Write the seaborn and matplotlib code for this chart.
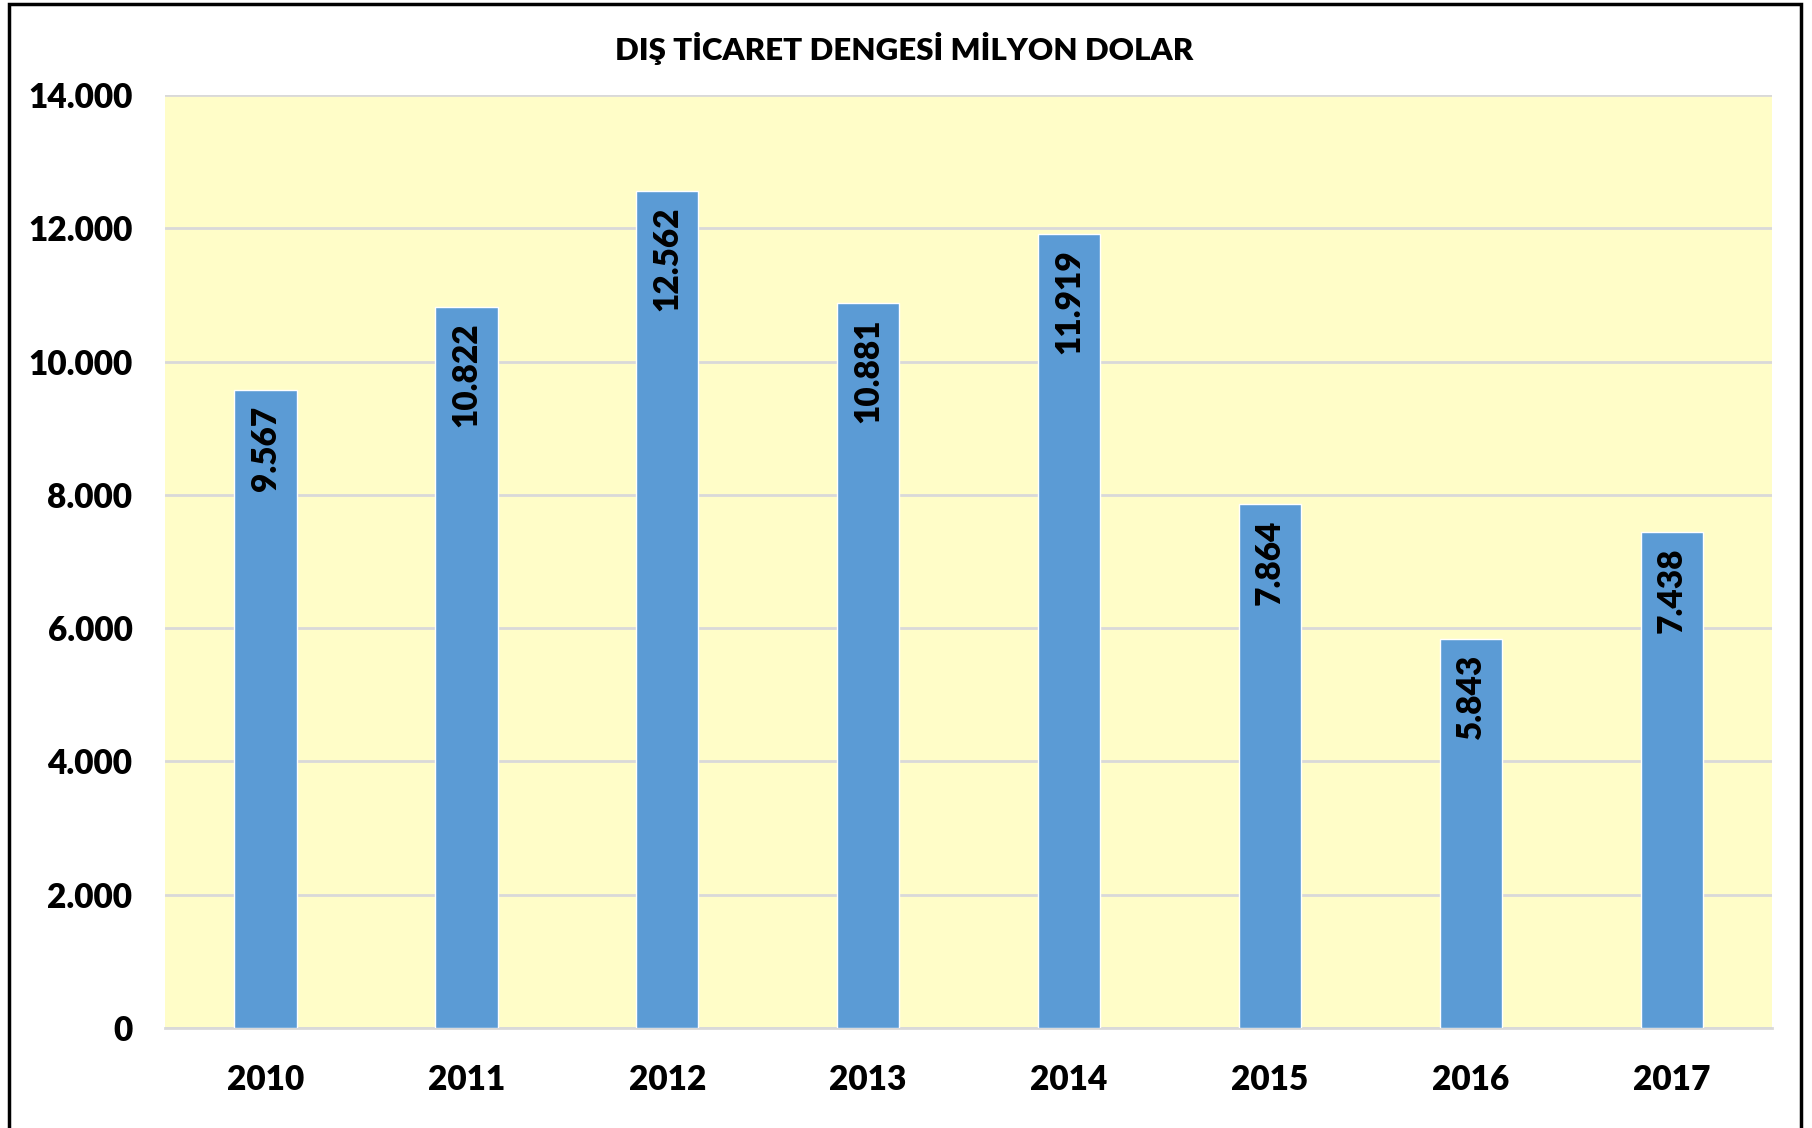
import matplotlib
matplotlib.use("Agg")
import matplotlib.pyplot as plt
import seaborn as sns
import pandas as pd
from matplotlib.patches import Rectangle

years = ["2010", "2011", "2012", "2013", "2014", "2015", "2016", "2017"]
balance = [9567, 10822, 12562, 10881, 11919, 7864, 5843, 7438]
yticks = [0, 2000, 4000, 6000, 8000, 10000, 12000, 14000]
title = "DIŞ TİCARET DENGESİ MİLYON DOLAR"

def tr_fmt(v):
    return f"{v:,}".replace(",", ".")

df = pd.DataFrame({"year": years, "value": balance})

sns.set_style("white")
plt.rcParams["font.family"] = ["Lato", "DejaVu Sans"]
plt.rcParams["font.weight"] = "heavy"
plt.rcParams["text.color"] = "black"

fig = plt.figure(figsize=(18.12, 11.28), dpi=100)
ax = fig.add_axes([0.0911, 0.0887, 0.8869, 0.8271])
ax.set_facecolor("#FFFDC8")

sns.barplot(data=df, x="year", y="value", color="#5B9BD5", width=0.31,
            saturation=1, ax=ax, zorder=3)

ax.set_ylim(0, 14000)
ax.set_yticks(yticks)
ax.set_yticklabels([tr_fmt(t) for t in yticks], fontweight="heavy")
ax.set_xticks(range(len(years)))
ax.set_xticklabels(years, fontweight="heavy")
ax.yaxis.grid(True, color="#D9D9D9", linewidth=2, zorder=0)
ax.set_axisbelow(True)
for s in ["left", "right", "top"]:
    ax.spines[s].set_visible(False)
ax.spines["bottom"].set_color("#D9D9D9")
ax.spines["bottom"].set_linewidth(2)
ax.tick_params(axis="both", length=0, labelsize=24, labelcolor="black")
ax.tick_params(axis="y", pad=23.5)
ax.tick_params(axis="x", pad=26)
ax.set_xlabel("")
ax.set_ylabel("")

# value labels inside the top of each bar
for i, v in enumerate(balance):
    ax.annotate(tr_fmt(v), (i, v), xytext=(0, -11), textcoords="offset points",
                rotation=90, ha="center", va="top", fontsize=24,
                fontweight="heavy", color="black", zorder=4)

fig.text(0.499, 0.957, title, ha="center", va="center", fontsize=22.5,
         fontweight="heavy", color="black")

# chart frame
fig.patches.append(Rectangle((9 / 1812, -0.05), 1792 / 1812, 1.05 - 4 / 1128,
                             transform=fig.transFigure, fill=False,
                             edgecolor="black", linewidth=2.5))

fig.savefig("out.png", dpi=100)
